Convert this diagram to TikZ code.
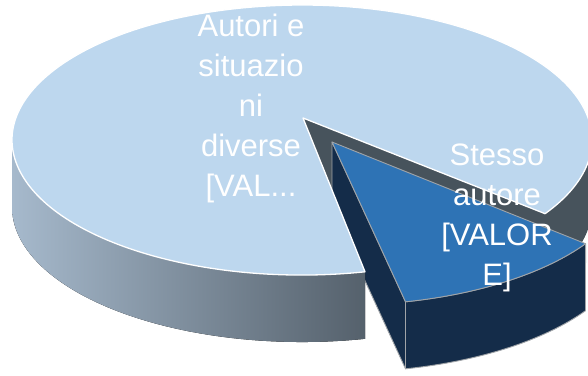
\documentclass[tikz,border=0pt]{standalone}
\usepackage{fontspec}
\setmainfont{Liberation Sans}
\usepackage{xcolor}
\usepackage{tikz}
\usetikzlibrary{positioning}

\definecolor{topblue}{HTML}{BDD7EE}
\definecolor{sliceblue}{HTML}{2E73B5}
\definecolor{navy}{HTML}{142C49}
\definecolor{wallgray}{HTML}{47535C}
\definecolor{sideleft}{HTML}{A6B9CC}
\definecolor{sideright}{HTML}{55616C}
\definecolor{edgegray}{HTML}{A0A4A8}

\begin{document}
\begin{tikzpicture}[
    x=1pt, y=-1pt,
    bigtop/.style={fill=topblue, draw=white, line width=1.3pt, line join=round},
    bigside/.style={left color=sideleft, right color=sideright},
    cutwall/.style={fill=wallgray},
    slicetop/.style={fill=sliceblue, draw=edgegray, line width=0.9pt, line join=round},
    sliceside/.style={fill=navy, draw=edgegray, line width=0.9pt, line join=round},
    label/.style={text=white, align=center, inner sep=0pt, font=\fontsize{31}{40}\selectfont},
    rad/.style={x radius=290, y radius=135}
]

\useasboundingbox (0,0) rectangle (588,375);
\clip (0,0) rectangle (588,375);

% Big slice corners
\coordinate (apex) at (303,118);
\coordinate (apexlow) at (303,185);
\coordinate (p1) at (365,271.8);
\coordinate (p2) at (545,213.7);
\coordinate (p2low) at (545,280.7);

% Exploded slice corners
\coordinate (b) at (332,142);
\coordinate (blow) at (332,209);
\coordinate (q1) at (405.5,301.8);
\coordinate (q1low) at (405.5,368.8);
\coordinate (q2low) at (585.5,310.7);

% Cut face and right rim of the big slice
\fill[cutwall] (apex) -- (p2) -- (p2low) -- (apexlow) -- cycle;
\fill[cutwall] (p2) arc[start angle=33.07, end angle=-5, rad] -- ++(0,67)
    arc[start angle=-5, end angle=33.07, rad] -- cycle;

% Exploded slice
\filldraw[sliceside] (b) -- (q1) -- (q1low) -- (blow) -- cycle;
\filldraw[sliceside] (q1) arc[start angle=77.46, end angle=33.07, rad] -- (q2low)
    arc[start angle=33.07, end angle=77.46, rad] -- cycle;
\filldraw[slicetop] (b) -- (q1) arc[start angle=77.46, end angle=33.07, rad] -- cycle;

% Front side of the big slice
\fill[bigside] (p1) arc[start angle=77.46, end angle=180, rad] -- ++(0,67)
    arc[start angle=180, end angle=77.46, rad] -- cycle;

% Top of the big slice
\filldraw[bigtop] (apex) -- (p1) arc[start angle=77.46, end angle=393.07, rad] -- cycle;

% Labels
\node[label, anchor=north] (bigtext) at (251,14) {Autori e\\situazio\\ni\\diverse\\{}[VAL...};
\node[label, anchor=north] (slicetext) at (497,144) {Stesso\\autore\\{}[VALOR\\E]};

\end{tikzpicture}
\end{document}
